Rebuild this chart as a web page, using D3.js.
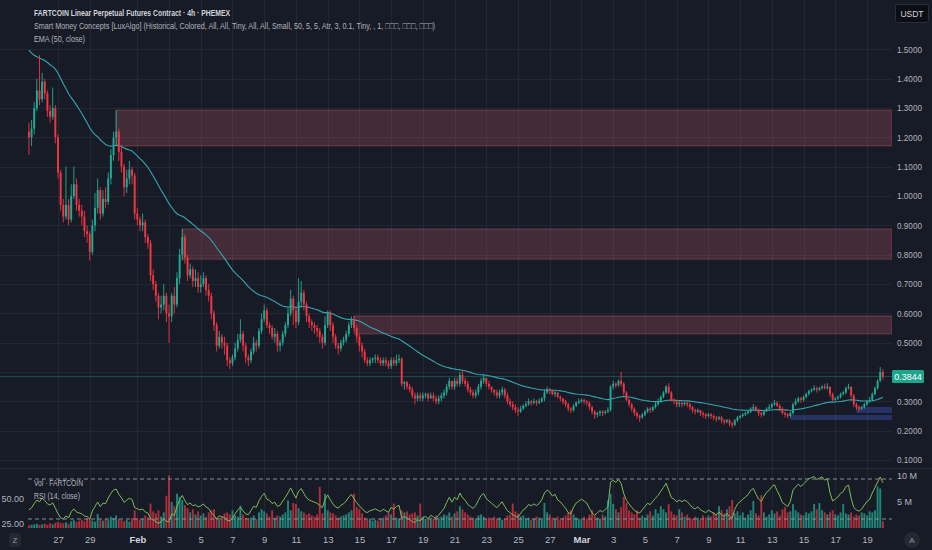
<!DOCTYPE html>
<html><head><meta charset="utf-8">
<script src="https://cdn.jsdelivr.net/npm/d3@7"></script>
<style>html,body{margin:0;padding:0;background:#171b26;}svg{display:block}</style>
</head><body><svg id="c" width="932" height="550"></svg>
<script>
// ---------------- DATA ----------------
const symbolTitle = "FARTCOIN Linear Perpetual Futures Contract · 4h · PHEMEX";
const smcTitle = "Smart Money Concepts [LuxAlgo] (Historical, Colored, All, All, Tiny, All, All, Small, 50, 5, 5, Atr, 3, 0.1, Tiny, , 1, \u25A1\u25A1\u25A1, \u25A1\u25A1\u25A1, \u25A1\u25A1\u25A1)";
const emaTitle = "EMA (50, close)";
const volTitle = "Vol · FARTCOIN";
const rsiTitle = "RSI (14, close)";
const currency = "USDT";

const firstCandle = "2025-01-25T04:00:00Z";   // 4h candles
const firstOpen = 1.22;
const closes = [
 1.20,1.23,1.30,1.36,1.33,
 1.39,1.35,1.29,1.27,1.30,1.20,
 1.08,0.97,0.93,0.97,0.92,1.00,
 1.04,0.97,0.95,0.93,0.88,0.87,
 0.81,0.90,0.96,1.02,0.94,0.99,
 0.98,1.06,1.14,1.20,1.22,1.15,
 1.10,1.03,1.06,1.09,1.07,0.94,
 0.92,0.90,0.91,0.86,0.84,0.73,
 0.70,0.66,0.62,0.63,0.66,0.60,
 0.59,0.66,0.63,0.72,0.80,0.86,
 0.79,0.73,0.75,0.71,0.72,0.69,
 0.70,0.72,0.68,0.66,0.60,0.56,
 0.49,0.52,0.50,0.49,0.44,0.43,
 0.45,0.48,0.51,0.53,0.49,0.45,
 0.44,0.47,0.50,0.49,0.54,0.58,
 0.61,0.56,0.55,0.52,0.53,0.49,
 0.50,0.53,0.56,0.60,0.65,0.61,
 0.57,0.64,0.67,0.63,0.59,0.57,
 0.56,0.55,0.54,0.52,0.50,0.56,
 0.60,0.56,0.52,0.49,0.48,0.50,
 0.51,0.53,0.56,0.58,0.55,0.52,
 0.49,0.47,0.44,0.43,0.44,0.445,
 0.45,0.44,0.43,0.44,0.43,0.42,
 0.44,0.43,0.44,0.445,0.36,0.365,
 0.35,0.34,0.32,0.31,0.32,0.31,
 0.32,0.325,0.31,0.32,0.31,0.30,
 0.31,0.32,0.33,0.35,0.37,0.35,
 0.37,0.36,0.39,0.37,0.36,0.34,
 0.33,0.32,0.33,0.35,0.37,0.38,
 0.36,0.35,0.34,0.33,0.32,0.33,
 0.34,0.32,0.30,0.29,0.28,0.27,
 0.265,0.275,0.285,0.29,0.30,0.295,
 0.30,0.295,0.30,0.31,0.33,0.34,
 0.335,0.325,0.33,0.315,0.31,0.30,
 0.29,0.275,0.27,0.285,0.295,0.30,
 0.305,0.30,0.295,0.28,0.265,0.255,
 0.26,0.265,0.26,0.265,0.27,0.35,
 0.36,0.355,0.37,0.36,0.33,0.305,
 0.29,0.275,0.26,0.25,0.245,0.255,
 0.265,0.275,0.27,0.28,0.29,0.30,
 0.315,0.33,0.35,0.33,0.305,0.30,
 0.29,0.295,0.29,0.295,0.29,0.28,
 0.27,0.265,0.27,0.26,0.255,0.25,
 0.255,0.25,0.245,0.24,0.245,0.235,
 0.23,0.235,0.225,0.22,0.235,0.245,
 0.25,0.255,0.26,0.265,0.275,0.28,
 0.27,0.26,0.255,0.265,0.275,0.28,
 0.29,0.295,0.285,0.275,0.26,0.255,
 0.25,0.26,0.29,0.30,0.31,0.305,
 0.315,0.325,0.335,0.34,0.345,0.34,
 0.345,0.35,0.345,0.35,0.325,0.305,
 0.31,0.315,0.325,0.33,0.345,0.35,
 0.32,0.29,0.28,0.275,0.28,0.29,
 0.30,0.305,0.325,0.345,0.37,0.40,
 0.3844
];
const highs = [
 1.25,1.26,1.32,1.40,1.48,
 1.42,1.40,1.36,1.31,1.37,1.31,
 1.21,1.09,0.99,1.10,0.99,1.04,
 1.10,1.06,0.99,0.97,0.95,0.90,
 0.88,0.92,1.01,1.06,1.03,1.02,
 1.03,1.08,1.16,1.22,1.293,1.23,
 1.17,1.11,1.09,1.12,1.10,1.08,
 0.96,0.93,0.94,0.92,0.87,0.85,
 0.75,0.71,0.67,0.66,0.70,0.67,
 0.63,0.67,0.69,0.74,0.82,0.888,
 0.87,0.80,0.77,0.76,0.75,0.74,
 0.73,0.74,0.73,0.70,0.67,0.61,
 0.57,0.54,0.53,0.52,0.50,0.45,
 0.46,0.50,0.53,0.58,0.54,0.50,
 0.46,0.48,0.52,0.51,0.55,0.60,
 0.63,0.62,0.57,0.56,0.55,0.54,
 0.51,0.54,0.57,0.62,0.68,0.66,
 0.62,0.72,0.71,0.68,0.64,0.60,
 0.58,0.57,0.56,0.55,0.53,0.59,
 0.61,0.61,0.57,0.53,0.50,0.51,
 0.52,0.54,0.57,0.59,0.591,0.56,
 0.53,0.50,0.48,0.45,0.45,0.45,
 0.46,0.46,0.45,0.45,0.45,0.44,
 0.45,0.45,0.46,0.46,0.45,0.37,
 0.37,0.36,0.35,0.33,0.33,0.33,
 0.33,0.33,0.33,0.33,0.33,0.32,
 0.32,0.33,0.34,0.36,0.38,0.37,
 0.38,0.38,0.40,0.407,0.38,0.37,
 0.35,0.34,0.34,0.36,0.38,0.39,
 0.38,0.37,0.35,0.34,0.34,0.34,
 0.35,0.345,0.33,0.31,0.30,0.29,
 0.28,0.285,0.29,0.30,0.31,0.305,
 0.31,0.305,0.31,0.315,0.34,0.35,
 0.345,0.34,0.335,0.33,0.32,0.31,
 0.305,0.295,0.28,0.29,0.30,0.31,
 0.31,0.31,0.305,0.30,0.285,0.27,
 0.265,0.27,0.27,0.27,0.28,0.355,
 0.37,0.365,0.375,0.40,0.365,0.335,
 0.31,0.295,0.28,0.265,0.255,0.26,
 0.27,0.28,0.28,0.285,0.30,0.31,
 0.32,0.335,0.355,0.362,0.335,0.31,
 0.305,0.30,0.30,0.30,0.30,0.295,
 0.285,0.275,0.275,0.27,0.265,0.26,
 0.26,0.26,0.255,0.25,0.25,0.25,
 0.24,0.24,0.24,0.23,0.24,0.25,
 0.255,0.26,0.265,0.27,0.28,0.29,
 0.285,0.275,0.265,0.27,0.28,0.29,
 0.295,0.305,0.30,0.29,0.28,0.265,
 0.26,0.265,0.295,0.31,0.315,0.315,
 0.32,0.33,0.34,0.345,0.355,0.35,
 0.35,0.355,0.36,0.362,0.35,0.33,
 0.315,0.32,0.33,0.335,0.35,0.36,
 0.35,0.325,0.295,0.285,0.285,0.295,
 0.305,0.315,0.33,0.35,0.375,0.417,
 0.41
];
const lows = [
 1.14,1.17,1.21,1.29,1.31,
 1.32,1.33,1.27,1.25,1.26,1.18,
 1.06,0.95,0.91,0.92,0.90,0.91,
 0.99,0.95,0.93,0.90,0.86,0.84,
 0.78,0.80,0.88,0.94,0.92,0.93,
 0.96,0.97,1.04,1.12,1.17,1.12,
 1.08,1.00,1.01,1.04,1.04,0.92,
 0.90,0.88,0.88,0.84,0.82,0.71,
 0.68,0.64,0.58,0.60,0.61,0.57,
 0.50,0.57,0.60,0.62,0.70,0.78,
 0.77,0.71,0.72,0.69,0.69,0.67,
 0.67,0.69,0.66,0.64,0.58,0.54,
 0.47,0.48,0.48,0.46,0.42,0.41,
 0.42,0.44,0.47,0.50,0.47,0.43,
 0.42,0.43,0.46,0.47,0.48,0.53,
 0.57,0.55,0.53,0.51,0.50,0.47,
 0.47,0.49,0.52,0.55,0.59,0.56,
 0.55,0.56,0.62,0.61,0.57,0.55,
 0.54,0.53,0.52,0.50,0.48,0.49,
 0.55,0.54,0.50,0.48,0.46,0.47,
 0.49,0.50,0.52,0.55,0.54,0.50,
 0.47,0.45,0.43,0.42,0.42,0.43,
 0.43,0.43,0.42,0.42,0.42,0.41,
 0.41,0.42,0.42,0.43,0.35,0.34,
 0.34,0.33,0.31,0.29,0.30,0.30,
 0.30,0.31,0.30,0.31,0.30,0.29,
 0.29,0.30,0.31,0.32,0.34,0.34,
 0.34,0.35,0.35,0.36,0.35,0.33,
 0.32,0.31,0.31,0.32,0.34,0.36,
 0.35,0.34,0.33,0.32,0.31,0.31,
 0.32,0.31,0.29,0.28,0.27,0.26,
 0.25,0.26,0.27,0.28,0.285,0.285,
 0.29,0.285,0.29,0.295,0.30,0.325,
 0.325,0.32,0.315,0.31,0.30,0.29,
 0.28,0.265,0.26,0.265,0.28,0.29,
 0.295,0.29,0.285,0.27,0.255,0.24,
 0.245,0.25,0.25,0.255,0.26,0.265,
 0.34,0.345,0.35,0.35,0.32,0.30,
 0.28,0.265,0.25,0.24,0.23,0.24,
 0.25,0.26,0.26,0.265,0.275,0.285,
 0.295,0.31,0.325,0.325,0.30,0.29,
 0.28,0.28,0.28,0.285,0.28,0.27,
 0.26,0.255,0.26,0.25,0.245,0.24,
 0.245,0.24,0.235,0.23,0.235,0.225,
 0.22,0.225,0.215,0.209,0.215,0.23,
 0.24,0.245,0.25,0.255,0.26,0.27,
 0.265,0.25,0.245,0.25,0.265,0.27,
 0.275,0.285,0.28,0.265,0.255,0.245,
 0.242,0.245,0.255,0.285,0.295,0.295,
 0.30,0.31,0.32,0.33,0.335,0.33,
 0.335,0.34,0.34,0.34,0.315,0.30,
 0.30,0.305,0.31,0.32,0.325,0.34,
 0.31,0.28,0.27,0.265,0.27,0.275,
 0.285,0.295,0.30,0.32,0.34,0.365,
 0.375
];
// volume in millions
const volumes = [
 0.5,0.6,0.7,0.8,0.6,
 0.7,0.8,0.6,0.9,0.7,1.0,
 1.2,1.0,0.9,1.1,0.8,1.3,
 1.5,1.2,1.4,1.6,1.3,1.9,
 1.8,1.4,1.2,2.7,1.6,1.4,
 1.8,1.5,2.2,1.9,2.4,1.7,
 1.5,1.3,1.6,1.2,1.9,3.4,
 1.9,1.6,1.8,2.4,2.0,4.7,
 3.2,2.8,3.4,2.2,3.0,6.2,
 10.1,5.0,4.2,6.6,6.0,5.4,
 4.4,3.8,3.0,3.6,2.6,3.2,
 2.4,2.8,2.1,3.0,3.4,3.6,
 2.0,1.6,2.2,2.8,3.0,2.6,
 3.4,2.4,2.2,4.3,2.6,2.0,
 1.8,2.0,2.4,1.7,3.0,3.6,
 3.2,2.8,2.2,3.4,2.0,2.4,
 2.2,2.6,3.0,5.3,3.4,4.8,
 4.6,3.8,3.2,3.0,2.6,2.8,
 2.4,2.2,2.6,7.9,2.8,6.6,
 3.4,3.0,2.8,2.4,2.0,2.2,
 2.4,2.6,3.0,3.4,6.6,4.0,
 3.6,2.8,2.0,1.6,1.8,1.4,
 1.6,1.4,1.8,2.0,2.4,3.0,
 2.6,4.7,2.0,1.8,3.4,3.0,
 3.2,2.6,2.8,3.0,2.4,4.7,
 2.2,1.8,1.6,2.0,1.8,2.4,
 2.0,2.2,2.6,2.4,3.0,2.2,
 2.8,3.2,4.2,3.6,3.0,2.6,
 2.2,2.0,1.8,2.4,2.6,2.2,
 1.8,2.0,1.6,2.2,1.8,2.0,
 1.6,1.8,2.4,2.6,4.7,3.2,
 2.8,2.2,2.4,1.8,2.0,1.6,
 1.8,2.2,2.0,1.6,4.8,3.0,
 2.6,2.0,1.8,2.2,1.6,2.0,
 2.4,3.0,3.4,2.6,2.0,1.8,
 1.6,2.2,1.8,2.6,3.4,2.4,
 2.0,1.8,2.6,2.2,5.3,6.6,
 4.6,3.6,3.0,4.0,6.0,4.8,
 3.4,3.0,2.6,3.4,2.0,2.4,
 2.0,2.6,3.2,2.4,3.6,2.8,
 4.2,3.6,3.0,4.6,3.2,2.6,
 2.4,3.6,3.0,2.2,2.6,2.0,
 1.8,2.2,2.0,1.6,2.4,2.0,
 2.4,2.2,3.0,2.6,4.2,3.4,
 2.8,3.6,4.2,5.4,2.8,3.2,
 2.4,3.0,2.0,2.6,3.4,5.2,
 2.8,2.4,6.3,3.0,2.2,2.6,
 3.4,2.8,3.2,2.4,3.6,4.0,
 3.0,3.2,4.6,3.4,3.0,2.6,
 2.4,3.0,2.8,3.2,4.6,3.6,
 4.8,3.4,3.0,2.6,3.0,3.4,
 2.6,2.4,3.0,4.6,2.8,2.6,
 3.0,2.2,2.6,2.4,3.0,2.8,
 2.4,3.2,3.0,3.4,8.0,7.6,
 1.3
];
const emaLength = 50, emaSeed = 1.51;
const rsiLength = 14, rsiSeedGain = 0.030, rsiSeedLoss = 0.045;

// Smart-money zones (supply = pink, demand = blue)
const supplyStarts = ["2025-01-30T16:00:00Z","2025-02-03T20:00:00Z","2025-02-14T16:00:00Z"];
const supplyTops = [1.293, 0.8876, 0.591];
const supplyBottoms = [1.171, 0.785, 0.530];
const demandStarts = ["2025-03-14T04:00:00Z","2025-03-18T08:00:00Z"];
const demandTops = [0.2534, 0.2807];
const demandBottoms = [0.2364, 0.2602];

const priceTicks = [0.1,0.2,0.3,0.4,0.5,0.6,0.7,0.8,0.9,1.0,1.1,1.2,1.3,1.4,1.5];
const dateTicks = ["2025-01-27","2025-01-29","2025-02-01","2025-02-03","2025-02-05","2025-02-07","2025-02-09","2025-02-11","2025-02-13","2025-02-15","2025-02-17","2025-02-19","2025-02-21","2025-02-23","2025-02-25","2025-02-27","2025-03-01","2025-03-03","2025-03-05","2025-03-07","2025-03-09","2025-03-11","2025-03-13","2025-03-15","2025-03-17","2025-03-19"];
const volTicks = [5, 10];
const rsiTicks = [25, 50];
const rsiBands = [30, 70];

// ---------------- LAYOUT ----------------
const W = 932, H = 550, PLOT_R = 892, PANE_SEP = 468;
const FONT = "'Liberation Sans', Arial, sans-serif";
const C = {bg:"#171b26", grid:"#232733", text:"#b2b5be", up:"#22ab94", down:"#f23645",
  ema:"#33a7b0", rsi:"#7dbb5c", sep:"#2a2e39"};

const svg = d3.select("#c");
svg.append("rect").attr("width",W).attr("height",H).attr("fill",C.bg);

const H4 = 4*3600*1000;
const t0 = new Date(firstCandle).getTime();
const candles = closes.map((c,i)=>{
  const o = i===0 ? firstOpen : closes[i-1];
  return {t:new Date(t0+i*H4), o, c, h:Math.max(highs[i],o,c), l:Math.min(lows[i],o,c), v:volumes[i]};
});

const x = d3.scaleUtc().domain([new Date("2025-01-27T00:00:00Z"), new Date("2025-03-19T00:00:00Z")]).range([58, 867]);
const y = d3.scaleLinear().domain([0.1, 1.5]).range([460, 49.4]);
const yVol = d3.scaleLinear().domain([0, 10]).range([528, 476]);
const yRsi = d3.scaleLinear().domain([30, 70]).range([519, 479]);
const bw = Math.max(1, (x(new Date(t0+H4)) - x(new Date(t0))) * 0.72);

svg.append("clipPath").attr("id","plot").append("rect").attr("x",0).attr("y",0).attr("width",PLOT_R).attr("height",PANE_SEP);
svg.append("clipPath").attr("id","lower").append("rect").attr("x",0).attr("y",PANE_SEP).attr("width",PLOT_R).attr("height",62);

// grid
const grid = svg.append("g");
grid.selectAll("line.h").data(priceTicks).join("line")
  .attr("x1",0).attr("x2",PLOT_R).attr("y1",d=>Math.round(y(d))+0.5).attr("y2",d=>Math.round(y(d))+0.5)
  .attr("stroke",C.grid).attr("stroke-width",1);
grid.selectAll("line.v").data(dateTicks).join("line")
  .attr("x1",d=>Math.round(x(new Date(d+"T00:00:00Z")))+0.5).attr("x2",d=>Math.round(x(new Date(d+"T00:00:00Z")))+0.5)
  .attr("y1",0).attr("y2",530).attr("stroke",C.grid).attr("stroke-width",1);
svg.append("line").attr("x1",0).attr("x2",W).attr("y1",PANE_SEP+0.5).attr("y2",PANE_SEP+0.5).attr("stroke",C.sep);

// zones
const main = svg.append("g").attr("clip-path","url(#plot)");
const supply = supplyStarts.map((s,i)=>({t:new Date(s), top:supplyTops[i], bot:supplyBottoms[i]}));
const demand = demandStarts.map((s,i)=>({t:new Date(s), top:demandTops[i], bot:demandBottoms[i]}));
main.selectAll("rect.s").data(supply).join("rect")
  .attr("x",d=>x(d.t)).attr("width",d=>PLOT_R-x(d.t))
  .attr("y",d=>y(d.top)).attr("height",d=>y(d.bot)-y(d.top))
  .attr("fill","rgba(200,90,110,0.25)").attr("stroke","rgba(225,105,125,0.35)").attr("stroke-width",1);
main.selectAll("rect.d").data(demand).join("rect")
  .attr("x",d=>x(d.t)).attr("width",d=>PLOT_R-x(d.t))
  .attr("y",d=>y(d.top)).attr("height",d=>y(d.bot)-y(d.top))
  .attr("fill","rgba(60,90,200,0.38)");

// last price line
const last = candles[candles.length-1];
main.append("line").attr("x1",0).attr("x2",PLOT_R).attr("y1",y(last.c)).attr("y2",y(last.c))
  .attr("stroke",C.up).attr("stroke-opacity",0.45).attr("stroke-width",0.8);

// EMA
let e = emaSeed; const k = 2/(emaLength+1);
const ema = candles.map(d=>{ e = e + k*(d.c - e); return {t:d.t, v:e}; });
main.append("path").datum(ema).attr("fill","none").attr("stroke",C.ema).attr("stroke-width",1.1)
  .attr("d", d3.line().x(d=>x(d.t)).y(d=>y(d.v)));

// candles
const cg = main.append("g");
cg.selectAll("line").data(candles).join("line")
  .attr("x1",d=>x(d.t)).attr("x2",d=>x(d.t)).attr("y1",d=>y(d.h)).attr("y2",d=>y(d.l))
  .attr("stroke",d=>d.c>=d.o?C.up:C.down).attr("stroke-width",0.9);
cg.selectAll("rect").data(candles).join("rect")
  .attr("x",d=>x(d.t)-bw/2).attr("width",bw)
  .attr("y",d=>y(Math.max(d.o,d.c))).attr("height",d=>Math.max(0.8, Math.abs(y(d.o)-y(d.c))))
  .attr("fill",d=>d.c>=d.o?C.up:C.down);

// lower pane: volume + RSI
const low = svg.append("g").attr("clip-path","url(#lower)");
low.selectAll("rect").data(candles).join("rect")
  .attr("x",d=>x(d.t)-bw/2).attr("width",bw)
  .attr("y",d=>yVol(d.v)).attr("height",d=>yVol(0)-yVol(d.v))
  .attr("fill",d=>d.c>=d.o?C.up:C.down).attr("fill-opacity",d=>d.c>=d.o?0.75:0.7);
svg.selectAll("line.band").data(rsiBands).join("line")
  .attr("x1",28).attr("x2",PLOT_R).attr("y1",d=>yRsi(d)).attr("y2",d=>yRsi(d))
  .attr("stroke","#8a8d97").attr("stroke-dasharray","4,3").attr("stroke-width",1);
let ag = rsiSeedGain, al = rsiSeedLoss;
const rsi = candles.map(d=>{
  const ch = d.c - d.o;
  ag = (ag*(rsiLength-1) + Math.max(ch,0))/rsiLength;
  al = (al*(rsiLength-1) + Math.max(-ch,0))/rsiLength;
  return {t:d.t, v: 100 - 100/(1+ag/al)};
});
low.append("path").datum(rsi).attr("fill","none").attr("stroke",C.rsi).attr("stroke-width",1)
  .attr("d", d3.line().x(d=>x(d.t)).y(d=>yRsi(d.v)));

// axes (price tick hidden where the last-price badge sits, as on the platform)
const lastY = y(last.c);
const ay = svg.append("g").attr("transform",`translate(${PLOT_R},0)`)
  .call(d3.axisRight(y).tickValues(priceTicks.filter(p=>Math.abs(y(p)-lastY)>12)).tickSize(0).tickPadding(5).tickFormat(d3.format(".4f")));
ay.select(".domain").remove();
ay.attr("font-family",FONT).attr("font-size",9);
ay.selectAll("text").attr("fill",C.text).attr("textLength",25).attr("lengthAdjust","spacingAndGlyphs");

const av = svg.append("g").attr("transform",`translate(${PLOT_R},0)`)
  .call(d3.axisRight(yVol).tickValues(volTicks).tickSize(0).tickPadding(5).tickFormat(d=>d+" M"));
av.select(".domain").remove();
av.attr("font-family",FONT).attr("font-size",9);
av.selectAll("text").attr("fill",C.text);

const ar = svg.append("g").attr("transform","translate(26,0)")
  .call(d3.axisLeft(yRsi).tickValues(rsiTicks).tickSize(0).tickPadding(2).tickFormat(d3.format(".2f")));
ar.select(".domain").remove();
ar.attr("font-family",FONT).attr("font-size",9);
ar.selectAll("text").attr("fill",C.text);

const ax = svg.append("g").attr("transform","translate(0,536)")
  .call(d3.axisBottom(x).tickValues(dateTicks.map(d=>new Date(d+"T00:00:00Z"))).tickSize(0).tickPadding(0)
    .tickFormat(d=>d.getUTCDate()===1 ? d3.utcFormat("%b")(d) : String(d.getUTCDate())));
ax.select(".domain").remove();
ax.attr("font-family",FONT).attr("font-size",9.5);
ax.selectAll("text").attr("fill",d=>d.getUTCDate()===1?"#d1d4dc":C.text)
  .attr("font-weight",d=>d.getUTCDate()===1?"bold":"normal");

// last price label
svg.append("rect").attr("x",PLOT_R).attr("y",lastY-6.5).attr("width",32).attr("height",13).attr("rx",1.5).attr("fill","#1fa58c");
svg.append("text").attr("x",PLOT_R+16).attr("y",lastY+3.2).attr("text-anchor","middle")
  .attr("font-family",FONT).attr("font-size",9).attr("fill","#ffffff").text(d3.format(".4f")(last.c));

// currency box
svg.append("rect").attr("x",895.5).attr("y",4.5).attr("width",33).attr("height",18).attr("rx",2)
  .attr("fill","#0c0e15").attr("stroke","#2a2e39");
svg.append("text").attr("x",912).attr("y",17).attr("text-anchor","middle").attr("font-family",FONT)
  .attr("font-size",8.5).attr("fill","#d1d4dc").text(currency);

// legends
const lg = svg.append("g").attr("font-family",FONT);
lg.append("text").attr("x",34).attr("y",16).attr("font-size",9.5).attr("font-weight","bold").attr("fill","#d1d4dc")
  .attr("textLength",196).attr("lengthAdjust","spacingAndGlyphs").text(symbolTitle);
lg.append("text").attr("x",34).attr("y",29).attr("font-size",9).attr("fill",C.text)
  .attr("textLength",401).attr("lengthAdjust","spacingAndGlyphs").text(smcTitle);
lg.append("text").attr("x",34).attr("y",42).attr("font-size",9).attr("fill",C.text)
  .attr("textLength",51).attr("lengthAdjust","spacingAndGlyphs").text(emaTitle);
lg.append("text").attr("x",34).attr("y",485.5).attr("font-size",9).attr("fill",C.text)
  .attr("textLength",49).attr("lengthAdjust","spacingAndGlyphs").text(volTitle);
lg.append("text").attr("x",34).attr("y",498.5).attr("font-size",9).attr("fill",C.text)
  .attr("textLength",46).attr("lengthAdjust","spacingAndGlyphs").text(rsiTitle);

// corner buttons
svg.append("rect").attr("x",9).attr("y",533).attr("width",12).attr("height",14).attr("rx",3).attr("fill","#242833");
svg.append("text").attr("x",15).attr("y",543).attr("text-anchor","middle").attr("font-family",FONT)
  .attr("font-size",8).attr("fill","#9598a1").text("Z");
svg.append("circle").attr("cx",912).attr("cy",540).attr("r",8).attr("fill","#242833");
svg.append("text").attr("x",912).attr("y",543).attr("text-anchor","middle").attr("font-family",FONT)
  .attr("font-size",8).attr("fill","#9598a1").text("A");
</script></body></html>
